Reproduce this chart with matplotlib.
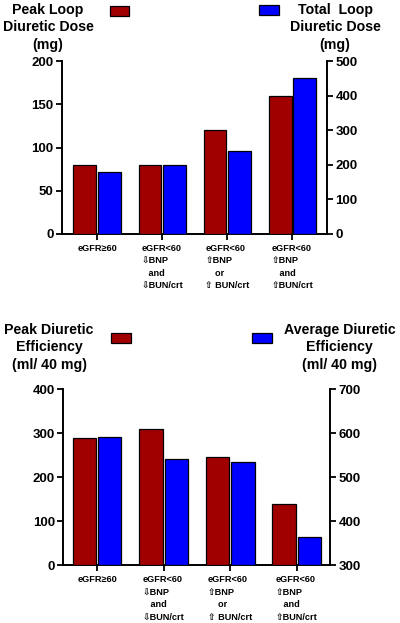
import matplotlib
matplotlib.use("Agg")
import matplotlib.pyplot as plt
from matplotlib.patches import Rectangle
import numpy as np

plt.rcParams['font.family'] = ['Liberation Sans', 'DejaVu Sans']
plt.rcParams['font.weight'] = 'bold'

categories = ["eGFR\u226560",
              "eGFR<60\n\u21e9BNP\n   and\n\u21e9BUN/crt",
              "eGFR<60\n\u21e7BNP\n    or\n\u21e7 BUN/crt",
              "eGFR<60\n\u21e7BNP\n   and\n\u21e7BUN/crt"]
peak_dose = [80, 80, 120, 160]
total_dose = [180, 200, 240, 450]
peak_eff = [289, 310, 246, 140]
avg_eff = [592, 542, 534, 365]

top_left_ticks = [0, 50, 100, 150, 200]
top_right_ticks = [0, 100, 200, 300, 400, 500]
bot_left_ticks = [0, 100, 200, 300, 400]
bot_right_ticks = [300, 400, 500, 600, 700]

RED = '#A00000'
BLUE = '#0000FF'
W, H = 400, 623
fig = plt.figure(figsize=(4, 6.23), dpi=100)


def panel(rect, left_vals, right_vals, lticks, rticks, xlim, bar_off):
    ax = fig.add_axes(rect)
    ax2 = ax.twinx()
    x = np.arange(len(categories))
    ax.bar(x - bar_off, left_vals, width=0.35, color=RED, edgecolor='black', linewidth=0.9, zorder=3)
    ax2.bar(x + bar_off, [v - rticks[0] for v in right_vals], bottom=rticks[0], width=0.35,
            color=BLUE, edgecolor='black', linewidth=0.9, zorder=3)
    ax.set_ylim(lticks[0], lticks[-1])
    ax2.set_ylim(rticks[0], rticks[-1])
    ax.set_yticks(lticks)
    ax2.set_yticks(rticks)
    ax.set_xlim(*xlim)
    ax.set_xticks(x)
    ax.set_xticklabels(categories, fontsize=6.6, linespacing=1.5, multialignment='left')
    for a in (ax, ax2):
        a.spines['top'].set_visible(False)
        for s in a.spines.values():
            s.set_linewidth(1.4)
        a.tick_params(width=1.3, length=4, labelsize=9.5, pad=2)
    ax.spines['right'].set_visible(False)
    ax2.spines['left'].set_visible(False)
    ax2.spines['bottom'].set_visible(False)
    ax.tick_params(axis='x', length=4, labelsize=6.6, pad=3)
    for lab in ax.get_yticklabels() + ax2.get_yticklabels():
        lab.set_fontweight('bold')
    for lab in ax.get_xticklabels():
        lab.set_fontweight('bold')
    return ax, ax2


panel([62 / W, 1 - 234 / H, (327 - 62) / W, (234 - 61) / H],
      peak_dose, total_dose, top_left_ticks, top_right_ticks, (-0.54, 3.53), 0.19)
panel([63.3 / W, 1 - 565.3 / H, (330 - 63.3) / W, (565.3 - 389.3) / H],
      peak_eff, avg_eff, bot_left_ticks, bot_right_ticks, (-0.51, 3.5), 0.19)


def fig_text(xc, ytop, s):
    fig.text(xc / W, 1 - ytop / H, s, ha='center', va='top', fontsize=10.2,
             fontweight='bold', linespacing=1.3)


def legend_patch(x0, y0, x1, y1, color):
    fig.add_artist(Rectangle((x0 / W, 1 - y1 / H), (x1 - x0) / W, (y1 - y0) / H,
                             transform=fig.transFigure, facecolor=color,
                             edgecolor='black', linewidth=0.9))


fig_text(48, 3, "Peak Loop\nDiuretic Dose\n(mg)")
fig_text(335, 3, "Total  Loop\nDiuretic Dose\n(mg)")
legend_patch(110, 5.5, 129, 15.5, RED)
legend_patch(259, 5, 279, 15, BLUE)

fig_text(49, 323, "Peak Diuretic\nEfficiency\n(ml/ 40 mg)")
fig_text(339.5, 323, "Average Diuretic\nEfficiency\n(ml/ 40 mg)")
legend_patch(111, 333, 131, 343, RED)
legend_patch(252, 333, 272, 343, BLUE)

fig.savefig("out.png", dpi=100)
